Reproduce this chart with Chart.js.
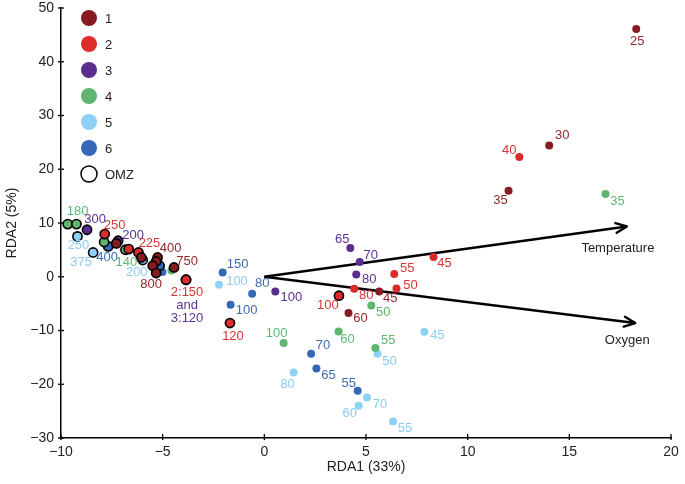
<!DOCTYPE html>
<html><head><meta charset="utf-8">
<script src="https://cdn.jsdelivr.net/npm/chart.js@4/dist/chart.umd.min.js"></script>
<style>html,body{margin:0;padding:0;background:#fff}#wrap{width:685px;height:484px}</style>
</head><body><div id="wrap"><canvas id="c" width="685" height="484"></canvas></div>
<script>
// ---- data (RDA1, RDA2, depth label, OMZ flag) per station ----
const stationNames = ["1","2","3","4","5","6"];
const s1X = [18.29, 14.01, 12.01, 5.65, 4.14, -6.05, -5.25, -5.32, -5.49, -5.32, -4.44, -7.28];
const s1Y = [46.08, 24.43, 16.0, -2.73, -6.75, 3.59, 3.59, 2.85, 2.05, 0.69, 1.73, 6.2];
const s1L = ["25","30","35","45","60","","400","","","800","750",""];
const s1O = [0,0,0,0,0,1,1,1,1,1,1,1];

const s2X = [12.54, 8.32, 6.39, 6.5, 4.42, 3.67, -1.69, -3.85, -6.19, -6.67, -7.85];
const s2Y = [22.27, 3.67, 0.5, -2.18, -2.23, -3.53, -8.61, -0.56, 4.52, 5.15, 7.94];
const s2L = ["40","45","55","50","80","100","120","2:150","225","","250"];
const s2O = [0,0,0,0,0,1,1,1,1,1,1];

const s3X = [4.23, 4.69, 4.52, 0.54, -7.19, -8.72, -3.85];
const s3Y = [5.34, 2.73, 0.43, -2.73, 6.7, 8.74, -0.56];
const s3L = ["65","70","80","100","200","300","and\n3:120"];
const s3O = [0,0,0,0,1,1,1];

const s4X = [16.78, 5.26, 5.46, 3.65, 0.95, -4.57, -9.67, -9.24, -7.88, -6.83];
const s4Y = [15.39, -5.34, -13.27, -10.18, -12.33, 1.17, 9.8, 9.8, 6.46, 5.02];
const s4L = ["35","50","55","60","100","","180","","","140"];
const s4O = [0,0,0,0,0,0,1,1,1,1];

const s5X = [7.87, 5.57, 6.33, 4.64, 5.05, 1.44, -2.23, -5.98, -9.19, -8.42];
const s5Y = [-10.23, -14.33, -26.92, -24.0, -22.46, -17.8, -1.49, 3.11, 7.5, 4.52];
const s5L = ["45","50","55","60","70","80","100","200","250","375"];
const s5O = [0,0,0,0,0,0,0,1,1,1];

const s6X = [4.59, 2.56, 2.3, -0.6, -1.66, -2.05, -5.01, -7.68, -5.15];
const s6Y = [-21.2, -17.06, -14.33, -3.16, -5.21, 0.8, 0.87, 5.64, 2.05];
const s6L = ["55","65","70","80","100","150","","400",""];
const s6O = [0,0,0,0,0,0,0,1,1];

// environmental vectors (arrow tips in RDA space)
const vectorNames = ["Temperature","Oxygen"];
const vectorX = [17.83, 18.24];
const vectorY = [9.36, -8.61];

const xTicks = [-10,-5,0,5,10,15,20];
const yTicks = [-30,-20,-10,0,10,20,30,40,50];

// ---- styling (kept separate from data) ----
const pointColors = ["#861c22","#dc2b2b","#5c2d91","#5db570","#8fd0f5","#3568b8"];
const textColors  = ["#93272c","#d93535","#5a3391","#5fb772","#8ccdf0","#3b6db6"];
// label nudges in px [dx, dy] from point centre
const nudges = [
  [[1,12],[13,-10],[-8,10],[11,7],[12,5],[0,0],[13,-9],[0,0],[0,0],[-5,11],[13,-6],[0,0]],
  [[-10,-7],[11,6],[13,-6],[14,-3],[12,7],[-11,10],[3,13],[1,13],[11,-9],[0,0],[10,-9]],
  [[-8,-9],[11,-7],[13,5],[16,6],[15,-5],[8,-10],[1,26]],
  [[12,7],[12,7],[13,-8],[9,8],[-7,-10],[0,0],[10,-13],[0,0],[0,0],[1,13]],
  [[13,4],[12,8],[12,7],[-9,8],[13,7],[-6,12],[18,-3],[-6,12],[1,9],[-12,10]],
  [[-9,-7],[12,7],[12,-8],[10,-10],[16,6],[15,-8],[0,0],[-1,11],[0,0]]
];
const FONT = "'Liberation Sans', Arial, Helvetica, sans-serif";

const SX = [s1X,s2X,s3X,s4X,s5X,s6X], SY=[s1Y,s2Y,s3Y,s4Y,s5Y,s6Y],
      SL = [s1L,s2L,s3L,s4L,s5L,s6L], SO=[s1O,s2O,s3O,s4O,s5O,s6O];

const datasets = stationNames.map((name, k) => ({
  type: 'scatter',
  label: name,
  order: 0,
  data: SX[k].map((x, i) => ({x, y: SY[k][i]})),
  backgroundColor: pointColors[k],
  borderColor: SO[k].map(o => o ? '#000' : pointColors[k]),
  borderWidth: SO[k].map(o => o ? 1.6 : 0),
  pointRadius: SO[k].map(o => o ? 4.6 : 4),
  labelsText: SL[k],
  labelColor: textColors[k],
  nudge: nudges[k]
}));
vectorNames.forEach((n, k) => {
  datasets.push({
    type: 'line', label: n, order: 5, isVector: true,
    data: [{x:0,y:0},{x:vectorX[k], y:vectorY[k]}],
    borderColor: '#000', borderWidth: 2.4, pointRadius: 0, fill: false
  });
});
const vectorNudge = [[-9,22],[-8,17]];

const labelPlugin = {
  id: 'labels',
  afterDatasetsDraw(chart) {
    const ctx = chart.ctx;
    ctx.save();
    ctx.font = '13px ' + FONT;
    ctx.textAlign = 'center';
    ctx.textBaseline = 'middle';
    chart.data.datasets.forEach((ds, di) => {
      const meta = chart.getDatasetMeta(di);
      if (ds.isVector) {
        const p0 = meta.data[0], p1 = meta.data[1];
        const ang = Math.atan2(p1.y - p0.y, p1.x - p0.x);
        const L = 12, a = 0.42;
        ctx.strokeStyle = '#000'; ctx.lineWidth = 2.4; ctx.lineCap='round'; ctx.lineJoin='round';
        ctx.beginPath();
        ctx.moveTo(p1.x - L*Math.cos(ang - a), p1.y - L*Math.sin(ang - a));
        ctx.lineTo(p1.x, p1.y);
        ctx.lineTo(p1.x - L*Math.cos(ang + a), p1.y - L*Math.sin(ang + a));
        ctx.stroke();
        const vi = di - stationNames.length;
        ctx.fillStyle = '#222';
        ctx.fillText(ds.label, p1.x + vectorNudge[vi][0], p1.y + vectorNudge[vi][1]);
        return;
      }
      ctx.fillStyle = ds.labelColor;
      meta.data.forEach((pt, i) => {
        const t = ds.labelsText[i];
        if (!t) return;
        const [dx, dy] = ds.nudge[i];
        t.split('\n').forEach((line, li) => {
          ctx.fillText(line, pt.x + dx, pt.y + dy + li * 12.5);
        });
      });
    });
    // legend
    const lx = 89, ly0 = 18, step = 26;
    ctx.textAlign = 'left';
    stationNames.concat(['OMZ']).forEach((n, k) => {
      const y = ly0 + k*step;
      ctx.beginPath();
      ctx.arc(lx, y, 8, 0, Math.PI*2);
      if (k < stationNames.length) { ctx.fillStyle = pointColors[k]; ctx.fill(); }
      else { ctx.fillStyle='#fff'; ctx.fill(); ctx.strokeStyle='#000'; ctx.lineWidth=1.5; ctx.stroke(); }
      ctx.fillStyle = '#222';
      ctx.fillText(n, lx + 16, y + 1);
    });
    // axis tick marks crossing the axes
    const xs = chart.scales.x, ys = chart.scales.y;
    ctx.strokeStyle = '#000'; ctx.lineWidth = 1.3; ctx.lineCap='butt';
    xTicks.forEach(v => { const px = xs.getPixelForValue(v); ctx.beginPath(); ctx.moveTo(px, ys.bottom - 4); ctx.lineTo(px, ys.bottom + 2); ctx.stroke(); });
    yTicks.forEach(v => { const py = ys.getPixelForValue(v); ctx.beginPath(); ctx.moveTo(xs.left - 3, py); ctx.lineTo(xs.left + 3, py); ctx.stroke(); });
    ctx.restore();
  }
};

const minus = v => String(v).replace('-', '\u2212');

new Chart(document.getElementById('c'), {
  data: { datasets },
  options: {
    responsive: false, animation: false,
    layout: { padding: { left: 0, right: 14, top: 8, bottom: 0 } },
    plugins: { legend: { display: false }, tooltip: { enabled: false } },
    scales: {
      x: {
        type: 'linear', min: -10, max: 20,
        afterBuildTicks: s => { s.ticks = xTicks.map(v => ({value: v})); },
        afterFit: s => { s.height = 46; s.paddingLeft = 0; s.paddingRight = 0; },
        grid: { display: false, drawTicks: false },
        border: { display: true, color: '#000', width: 1.5 },
        ticks: { padding: 6, color: '#222', font: { family: FONT, size: 14 }, callback: minus, maxRotation: 0 },
        title: { display: true, text: 'RDA1 (33%)', color: '#222', font: { family: FONT, size: 14 }, padding: { top: 2, bottom: 8 } }
      },
      y: {
        type: 'linear', min: -30, max: 50,
        afterBuildTicks: s => { s.ticks = yTicks.map(v => ({value: v})); },
        afterFit: s => { s.width = 61; s.paddingTop = 0; s.paddingBottom = 0; },
        grid: { display: false, drawTicks: false },
        border: { display: true, color: '#000', width: 1.5 },
        ticks: { padding: 7, color: '#222', font: { family: FONT, size: 14 }, callback: minus },
        title: { display: true, text: 'RDA2 (5%)', color: '#222', font: { family: FONT, size: 14 }, padding: { top: 4, bottom: 2 } }
      }
    }
  },
  plugins: [labelPlugin]
});
</script>
</body></html>
